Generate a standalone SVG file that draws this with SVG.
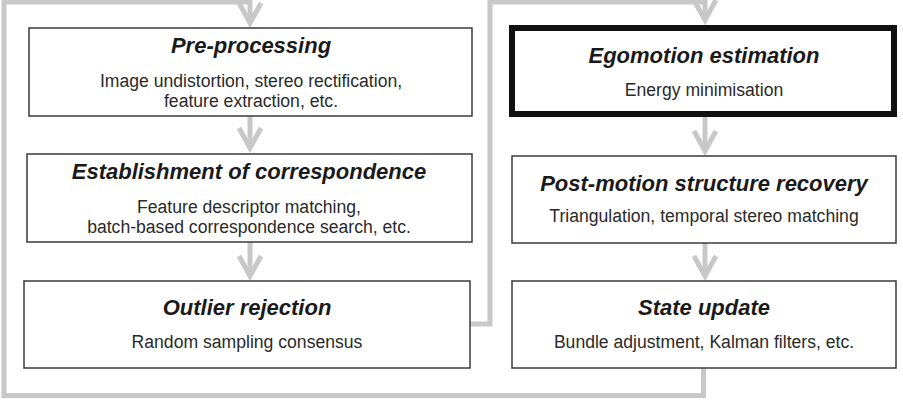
<svg xmlns="http://www.w3.org/2000/svg" width="903" height="402" viewBox="0 0 903 402">
<style>
.box{fill:#fff;stroke:#3a3a3a;stroke-width:1.5}
.thick{fill:#fff;stroke:#111;stroke-width:6}
.title{font-family:"Liberation Sans",Arial,sans-serif;font-size:22px;font-weight:bold;font-style:italic;fill:#1a1a1a;text-anchor:middle}
.body{font-family:"Liberation Sans",Arial,sans-serif;font-size:17.6px;fill:#2a2a2a;text-anchor:middle}
.conn{fill:none;stroke:#c8c8c8;stroke-width:5}
</style>
<defs>
<marker id="arr" markerUnits="userSpaceOnUse" markerWidth="40" markerHeight="40" refX="0" refY="0" orient="auto" overflow="visible">
<path d="M-20,-11 L0,0 L-20,11" fill="none" stroke="#c8c8c8" stroke-width="5" stroke-linejoin="miter"/>
</marker>
</defs>
<rect width="903" height="402" fill="#fff"/>
<g id="connectors">
<path class="conn" d="M703.5,368 L703.5,395.5 L4,395.5 L4,2 L250,2 L250,23" marker-end="url(#arr)"/>
<path class="conn" d="M470,324 L490,324 L490,2 L705,2 L705,20" marker-end="url(#arr)"/>
<path class="conn" d="M250,116 L250,148" marker-end="url(#arr)"/>
<path class="conn" d="M250,242 L250,276" marker-end="url(#arr)"/>
<path class="conn" d="M705,117 L705,151" marker-end="url(#arr)"/>
<path class="conn" d="M705,243 L705,276" marker-end="url(#arr)"/>
</g>
<g id="preprocessing">
<rect class="box" x="29" y="28" width="443" height="88"/>
<text class="title" x="251" y="53">Pre-processing</text>
<text class="body" x="251" y="87">Image undistortion, stereo rectification,</text>
<text class="body" x="251" y="107">feature extraction, etc.</text>
</g>
<g id="correspondence">
<rect class="box" x="27" y="154" width="445" height="88"/>
<text class="title" x="249" y="179">Establishment of correspondence</text>
<text class="body" x="249" y="213">Feature descriptor matching,</text>
<text class="body" x="249" y="233">batch-based correspondence search, etc.</text>
</g>
<g id="outlier">
<rect class="box" x="24" y="281" width="446" height="87"/>
<text class="title" x="247" y="315">Outlier rejection</text>
<text class="body" x="247" y="348">Random sampling consensus</text>
</g>
<g id="egomotion">
<rect class="thick" x="512" y="28" width="382" height="86"/>
<text class="title" x="704" y="63">Egomotion estimation</text>
<text class="body" x="704" y="96">Energy minimisation</text>
</g>
<g id="postmotion">
<rect class="box" x="512" y="156" width="384" height="87"/>
<text class="title" x="704" y="191">Post-motion structure recovery</text>
<text class="body" x="704" y="222">Triangulation,  temporal stereo matching</text>
</g>
<g id="stateupdate">
<rect class="box" x="512" y="281" width="384" height="87"/>
<text class="title" x="704" y="315">State update</text>
<text class="body" x="704" y="348">Bundle adjustment, Kalman filters, etc.</text>
</g>
</svg>
